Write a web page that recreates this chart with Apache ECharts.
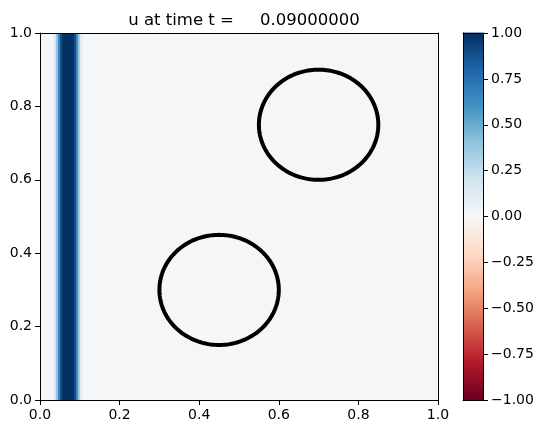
<!DOCTYPE html>
<html>
<head>
<meta charset="utf-8">
<script src="https://cdn.jsdelivr.net/npm/echarts@6/dist/echarts.min.js"></script>
<style>html,body{margin:0;padding:0;background:#fff}#c{width:543px;height:435px}</style>
</head>
<body>
<div id="c"></div>
<script>
// ---- data ----
const titleText = 'u at time t =     0.09000000';
const xTicks = [0, 0.2, 0.4, 0.6, 0.8, 1.0];
const yTicks = [0, 0.2, 0.4, 0.6, 0.8, 1.0];
const cbTicks = [-1, -0.75, -0.5, -0.25, 0, 0.25, 0.5, 0.75, 1];
// u(x) columns (u is constant along y): left edge, right edge, value
const bandLeft  = [0.030, 0.035, 0.040, 0.045, 0.050, 0.055, 0.060, 0.065, 0.070, 0.075, 0.080, 0.085, 0.090, 0.095, 0.100, 0.105];
const bandRight = [0.035, 0.040, 0.045, 0.050, 0.055, 0.060, 0.065, 0.070, 0.075, 0.080, 0.085, 0.090, 0.095, 0.100, 0.105, 0.110];
const bandU     = [0.03,  0.15,  0.38,  0.65,  0.88,  0.99,  1.00,  1.00,  1.00,  1.00,  0.99,  0.90,  0.68,  0.38,  0.13,  0.03];
const backgroundU = 0.01;
// circle obstacles: center x, center y, radius
const circleX = [0.70, 0.45];
const circleY = [0.75, 0.30];
const circleR = [0.15, 0.15];
// RdBu colormap
const rdbu = ['#67001f','#b2182b','#d6604d','#f4a582','#fddbc7','#f7f7f7','#d1e5f0','#92c5de','#4393c3','#2166ac','#053061'];

// ---- build ----
const heatData = [[0, 1, backgroundU]];
for (let i = 0; i < bandU.length; i++) heatData.push([bandLeft[i], bandRight[i], bandU[i]]);
const cbData = [];
const nCb = 256;
for (let i = 0; i < nCb; i++) {
  const a = -1 + 2 * i / nCb, b = -1 + 2 * (i + 1) / nCb;
  cbData.push([a, b, (a + b) / 2]);
}
const circleData = circleX.map((x, i) => [x, circleY[i], circleR[i]]);

const F = 'DejaVu Sans';
const lab = {color: '#000', fontFamily: F, fontSize: 14};
const fmt1 = v => v.toFixed(1);
const fmtCb = v => (v < 0 ? '\u2212' : '') + Math.abs(v).toFixed(2);
const line = {show: true, onZero: false, lineStyle: {color: '#000', width: 1}};
const tick = {show: true, inside: false, length: 5, lineStyle: {color: '#000', width: 1}};
const bare = (extra) => Object.assign({type: 'value', min: 0, max: 1, z: 10, axisLine: line, axisTick: {show: false}, axisLabel: {show: false}, splitLine: {show: false}}, extra);

const chart = echarts.init(document.getElementById('c'), null, {renderer: 'canvas'});
chart.setOption({
  backgroundColor: '#fff',
  animation: false,
  title: {text: titleText, left: 239, top: 7, textAlign: 'center',
    textStyle: {fontFamily: F, fontSize: 16.5, fontWeight: 'normal', color: '#000'}},
  grid: [
    {left: 40, top: 33, width: 398, height: 367},
    {left: 463, top: 33, width: 20, height: 367}
  ],
  visualMap: {show: false, type: 'continuous', min: -1, max: 1, dimension: 2, seriesIndex: [0, 1],
    inRange: {color: rdbu}},
  xAxis: [
    {type: 'value', gridIndex: 0, min: 0, max: 1, interval: 0.2, position: 'bottom', z: 10,
      axisLine: line, axisTick: tick, splitLine: {show: false},
      axisLabel: Object.assign({margin: 8, formatter: fmt1}, lab)},
    bare({gridIndex: 0, position: 'top'}),
    bare({gridIndex: 1, position: 'bottom'}),
    bare({gridIndex: 1, position: 'top'})
  ],
  yAxis: [
    {type: 'value', gridIndex: 0, min: 0, max: 1, interval: 0.2, position: 'left', z: 10,
      axisLine: line, axisTick: tick, splitLine: {show: false},
      axisLabel: Object.assign({margin: 8, formatter: fmt1}, lab)},
    bare({gridIndex: 0, position: 'right'}),
    {type: 'value', gridIndex: 1, min: -1, max: 1, interval: 0.25, position: 'right', z: 10,
      axisLine: line, axisTick: tick, splitLine: {show: false},
      axisLabel: Object.assign({margin: 8, formatter: fmtCb}, lab)},
    bare({gridIndex: 1, position: 'left'})
  ],
  series: [
    {type: 'custom', xAxisIndex: 0, yAxisIndex: 0, data: heatData, silent: true, z: 1,
      encode: {x: [0, 1], y: -1},
      renderItem: function (params, api) {
        const p0 = api.coord([api.value(0), 1]);
        const p1 = api.coord([api.value(1), 0]);
        return {type: 'rect', shape: {x: p0[0], y: p0[1], width: p1[0] - p0[0] + 0.4, height: p1[1] - p0[1]},
          style: {fill: api.visual('color')}};
      }},
    {type: 'custom', xAxisIndex: 2, yAxisIndex: 2, data: cbData, silent: true, z: 1,
      encode: {y: [0, 1], x: -1},
      renderItem: function (params, api) {
        const p0 = api.coord([0, api.value(1)]);
        const p1 = api.coord([1, api.value(0)]);
        return {type: 'rect', shape: {x: p0[0], y: p0[1] - 0.4, width: p1[0] - p0[0], height: p1[1] - p0[1] + 0.8},
          style: {fill: api.visual('color')}};
      }},
    {type: 'custom', xAxisIndex: 0, yAxisIndex: 0, data: circleData, silent: true, z: 3,
      encode: {x: 0, y: 1},
      renderItem: function (params, api) {
        const cx = api.value(0), cy = api.value(1), r = api.value(2);
        const pts = [];
        for (let k = 0; k < 180; k++) {
          const t = 2 * Math.PI * k / 180;
          pts.push(api.coord([cx + r * Math.cos(t), cy + r * Math.sin(t)]));
        }
        return {type: 'polygon', shape: {points: pts},
          style: {fill: 'none', stroke: '#000', lineWidth: 4}};
      }}
  ]
});
</script>
</body>
</html>
